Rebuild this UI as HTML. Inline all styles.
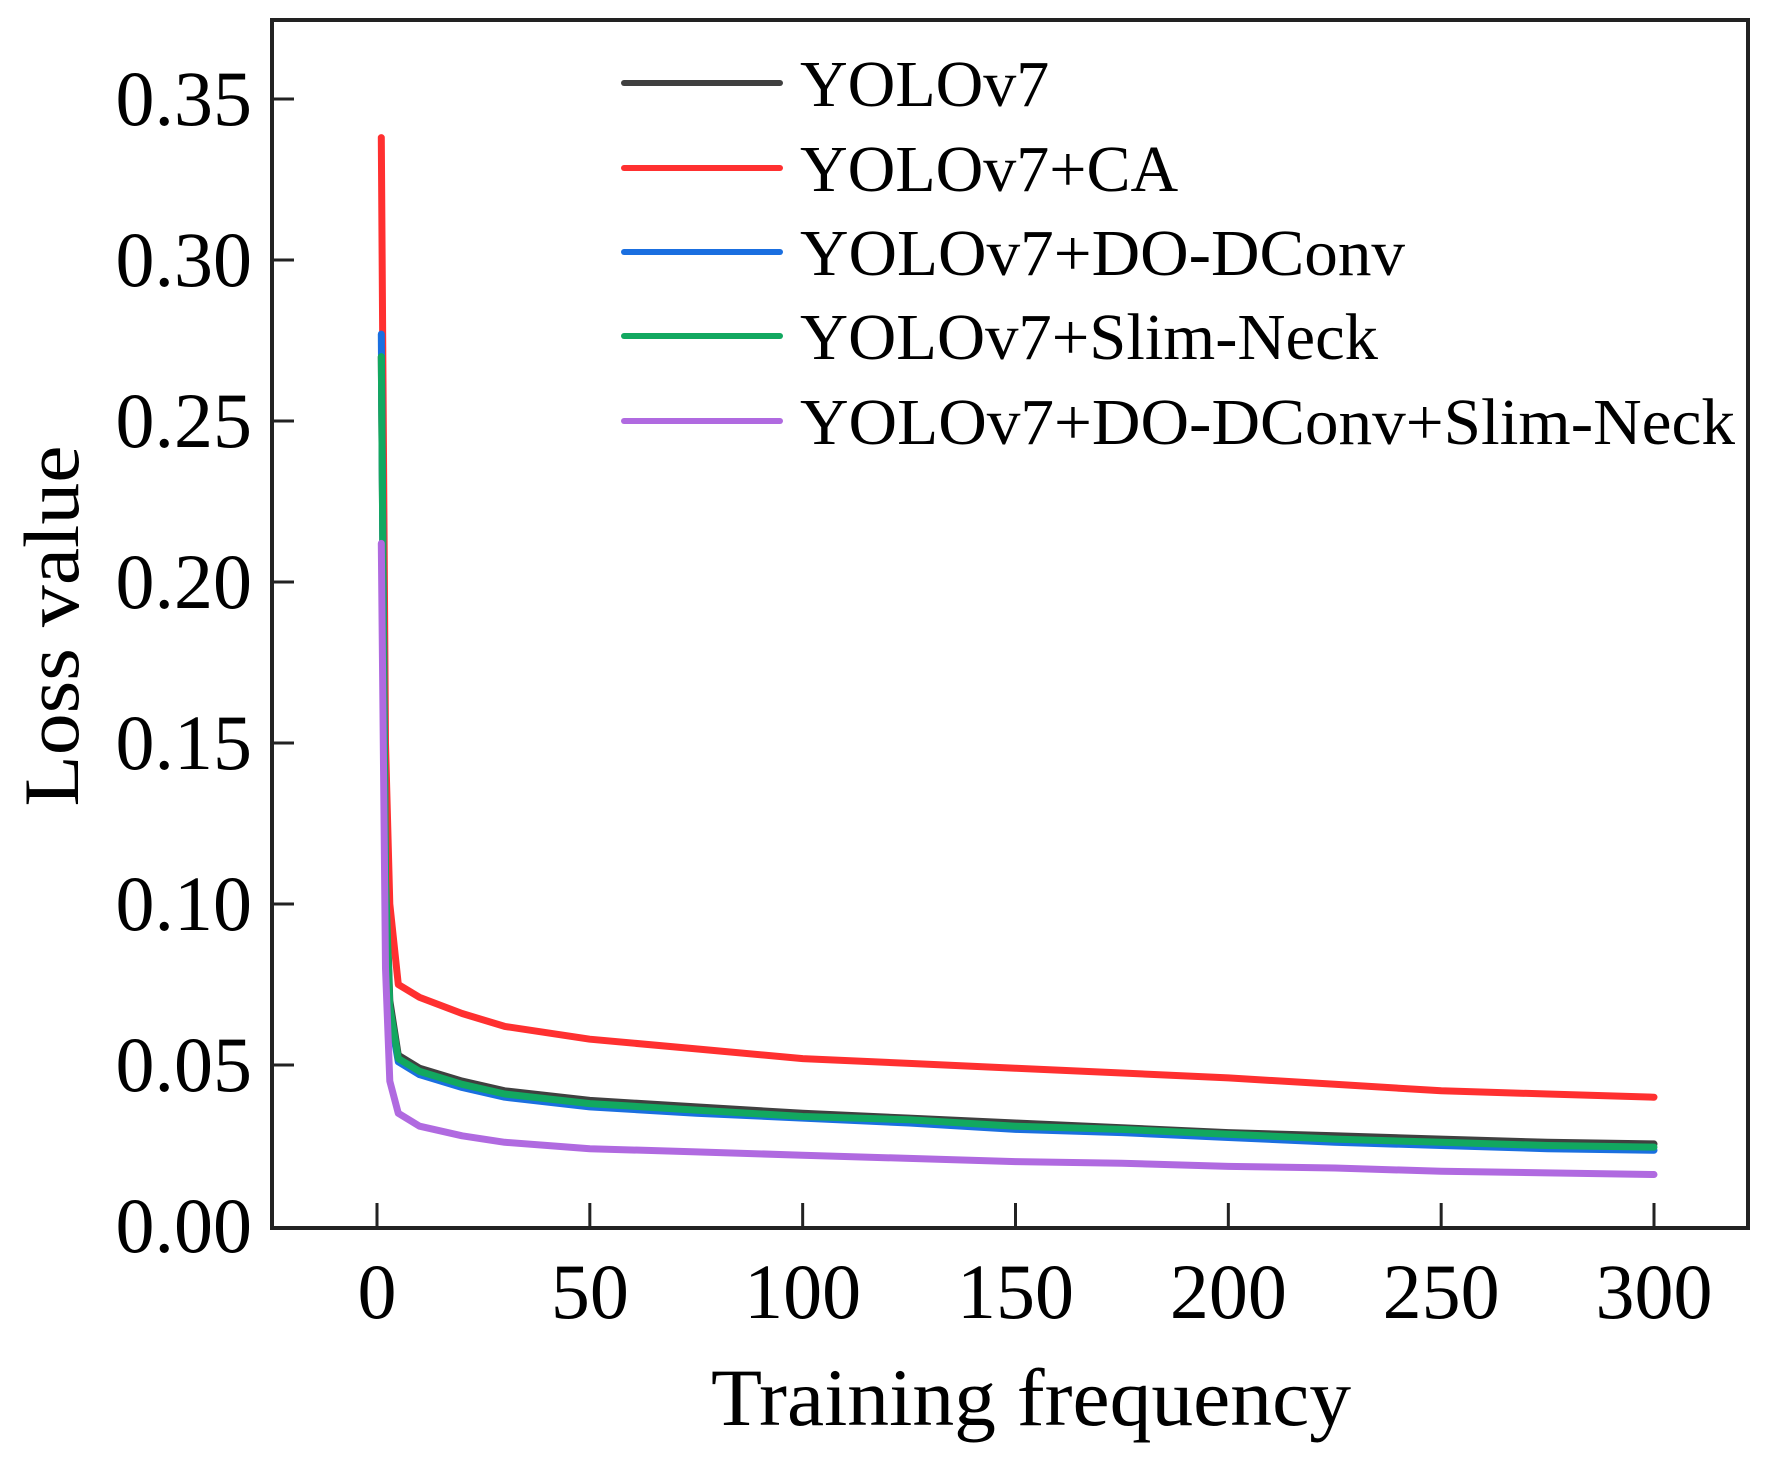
<!DOCTYPE html>
<html><head><meta charset="utf-8"><style>html,body{margin:0;padding:0;background:#fff}svg{display:block}</style></head>
<body>
<svg id="chart" width="1775" height="1459" viewBox="0 0 1775 1459" xmlns="http://www.w3.org/2000/svg" font-family="'Liberation Serif', serif">
<g id="plot"></g>
</svg>
<script>
const xTicks = [0, 50, 100, 150, 200, 250, 300];
const yTicks = [0.00, 0.05, 0.10, 0.15, 0.20, 0.25, 0.30, 0.35];
const yTickLabels = ["0.00","0.05","0.10","0.15","0.20","0.25","0.30","0.35"];
const epochs = [1, 2, 3, 5, 10, 20, 30, 50, 75, 100, 125, 150, 175, 200, 225, 250, 275, 300];
const seriesNames = ["YOLOv7", "YOLOv7+CA", "YOLOv7+DO-DConv", "YOLOv7+Slim-Neck", "YOLOv7+DO-DConv+Slim-Neck"];
const seriesColors = ["#404040", "#ff3030", "#1a6fe0", "#12a860", "#b06ae0"];
const yolov7 = [0.270, 0.110, 0.070, 0.053, 0.049, 0.045, 0.042, 0.039, 0.037, 0.035, 0.0335, 0.032, 0.0305, 0.029, 0.028, 0.027, 0.026, 0.0255];
const yolov7Ca = [0.338, 0.150, 0.100, 0.075, 0.071, 0.066, 0.062, 0.058, 0.055, 0.052, 0.0505, 0.049, 0.0475, 0.046, 0.044, 0.042, 0.041, 0.040];
const yolov7DoDconv = [0.277, 0.105, 0.066, 0.051, 0.047, 0.043, 0.040, 0.037, 0.035, 0.0335, 0.032, 0.030, 0.029, 0.0275, 0.026, 0.025, 0.024, 0.0235];
const yolov7SlimNeck = [0.270, 0.108, 0.068, 0.052, 0.048, 0.044, 0.041, 0.038, 0.036, 0.034, 0.033, 0.031, 0.030, 0.0285, 0.027, 0.026, 0.025, 0.0245];
const yolov7Both = [0.212, 0.080, 0.045, 0.035, 0.031, 0.028, 0.026, 0.024, 0.023, 0.022, 0.021, 0.020, 0.0195, 0.0185, 0.018, 0.017, 0.0165, 0.016];
const allSeries = [yolov7, yolov7Ca, yolov7DoDconv, yolov7SlimNeck, yolov7Both];

const NS = "http://www.w3.org/2000/svg";
const L = 272, R = 1748, T = 20, B = 1228;
const X0 = 377, X300 = 1654;
const Y0 = 1226, Y35 = 99;
function xs(v){ return X0 + (X300 - X0) * v / 300; }
function ys(v){ return Y0 + (Y35 - Y0) * v / 0.35; }
const g = document.getElementById('plot');
function mk(tag, attrs, parent){ const e = document.createElementNS(NS, tag); for (const k in attrs) e.setAttribute(k, attrs[k]); (parent||g).appendChild(e); return e; }

allSeries.forEach((vals, i) => {
  const pts = vals.map((v, j) => xs(epochs[j]).toFixed(1) + ',' + ys(v).toFixed(1)).join(' ');
  const pl = mk('polyline', {points: pts, fill: 'none', stroke: seriesColors[i], 'stroke-width': 7, 'stroke-linejoin': 'round', 'stroke-linecap': 'round'});
  
  
});

const fr = mk('rect', {x: L, y: T, width: R - L, height: B - T, fill: 'none', stroke: '#222', 'stroke-width': 4});



xTicks.forEach(v => {
  const t = mk('line', {x1: xs(v), x2: xs(v), y1: B, y2: B - 25, stroke: '#222', 'stroke-width': 3});
  
  
  const lb = mk('text', {x: xs(v), y: 1318, 'font-size': 78, 'text-anchor': 'middle', fill: '#000'});
  lb.textContent = String(v);
  
  
});
yTicks.forEach((v, i) => {
  if (i > 0) {
    const t = mk('line', {x1: L, x2: L + 22, y1: ys(v), y2: ys(v), stroke: '#222', 'stroke-width': 3});
    
    
  }
  const lb = mk('text', {x: 252, y: ys(v) + 26, 'font-size': 78, 'text-anchor': 'end', fill: '#000'});
  lb.textContent = yTickLabels[i];
  
  
});

const xt = mk('text', {x: 1031, y: 1425, 'font-size': 82, 'text-anchor': 'middle', textLength: 640, lengthAdjust: 'spacingAndGlyphs', fill: '#000'});
xt.textContent = 'Training frequency';


const yt = mk('text', {x: 0, y: 0, 'font-size': 78, 'text-anchor': 'middle', textLength: 361, lengthAdjust: 'spacingAndGlyphs', transform: 'translate(78,626) rotate(-90)', fill: '#000'});
yt.textContent = 'Loss value';



const legendY = [83, 168, 252, 336, 421];
const legendLen = [null, null, 605, 578, 935];
seriesNames.forEach((n, i) => {
  const ln = mk('line', {x1: 624, x2: 780, y1: legendY[i], y2: legendY[i], stroke: seriesColors[i], 'stroke-width': 6, 'stroke-linecap': 'round'});
  
  
  const a = {x: 800, y: legendY[i] + 23, 'font-size': 66, fill: '#000'};
  if (legendLen[i]) { a.textLength = legendLen[i]; a.lengthAdjust = 'spacingAndGlyphs'; }
  const tx = mk('text', a);
  tx.textContent = n;
  
  
});
</script>
</body></html>
